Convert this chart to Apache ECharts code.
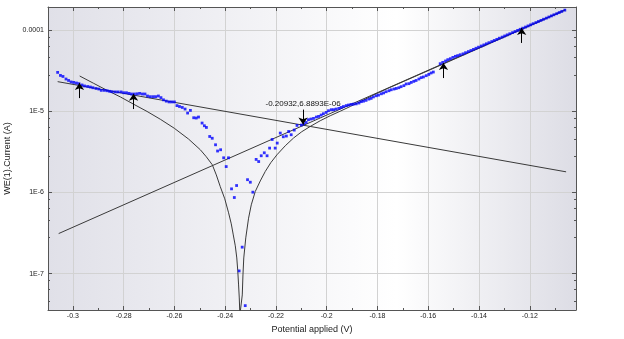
<!DOCTYPE html>
<html>
<head>
<meta charset="utf-8">
<script src="https://cdn.jsdelivr.net/npm/echarts@6.0.0/dist/echarts.min.js"></script>
<style>
html,body{margin:0;padding:0;background:#fff;}
#chart{width:624px;height:339px;}
</style>
</head>
<body>
<div id="chart"></div>
<script>
// Measured points (potential in V, current in A)
const potential = [
-0.3060,-0.3049,-0.3039,-0.3027,-0.3017,-0.3007,-0.2997,-0.2986,-0.2976,-0.2964,
-0.2954,-0.2942,-0.2931,-0.2921,-0.2909,-0.2898,-0.2888,-0.2876,-0.2865,-0.2855,
-0.2845,-0.2833,-0.2822,-0.2810,-0.2800,-0.2789,-0.2779,-0.2769,-0.2758,-0.2747,
-0.2737,-0.2726,-0.2716,-0.2706,-0.2695,-0.2684,-0.2674,-0.2663,-0.2653,-0.2643,
-0.2632,-0.2621,-0.2611,-0.2600,-0.2590,-0.2580,-0.2569,-0.2558,-0.2548,-0.2537,
-0.2524,-0.2514,-0.2505,-0.2491,-0.2482,-0.2474,-0.2461,-0.2451,-0.2438,-0.2430,
-0.2418,-0.2406,-0.2396,-0.2387,-0.2375,-0.2364,-0.2355,-0.2345,-0.2333,-0.2321,
-0.2312,-0.2301,-0.2291,-0.2278,-0.2268,-0.2258,-0.2246,-0.2235,-0.2225,-0.2215,
-0.2203,-0.2195,-0.2183,-0.2171,-0.2159,-0.2150,-0.2140,-0.2128,-0.2117,
-0.2100,-0.2091,-0.2081,-0.2072,-0.2062,-0.2052,-0.2041,-0.2032,-0.2022,-0.2013,
-0.2002,-0.1993,-0.1982,-0.1973,-0.1963,-0.1952,-0.1943,-0.1934,-0.1923,-0.1914,
-0.1904,-0.1895,-0.1884,-0.1873,-0.1864,-0.1855,-0.1845,-0.1834,-0.1825,-0.1816,
-0.1805,-0.1796,-0.1785,-0.1776,-0.1766,-0.1755,-0.1746,-0.1735,-0.1726,-0.1716,
-0.1707,-0.1696,-0.1687,-0.1676,-0.1667,-0.1657,-0.1648,-0.1637,-0.1628,-0.1619,
-0.1608,-0.1598,-0.1589,-0.1580,
-0.1553,-0.1543,-0.1532,-0.1523,-0.1513,-0.1503,-0.1493,-0.1484,
-0.1474,-0.1463,-0.1453,-0.1442,-0.1432,-0.1422,-0.1412,-0.1402,-0.1391,-0.1381,
-0.1371,-0.1361,-0.1350,-0.1340,-0.1330,-0.1320,-0.1309,-0.1299,-0.1289,-0.1279,
-0.1268,-0.1258,-0.1248,-0.1238,-0.1228,-0.1217,-0.1207,-0.1197,-0.1187,-0.1176,
-0.1166,-0.1156,-0.1146,-0.1135,-0.1125,-0.1115,-0.1105,-0.1094,-0.1084,-0.1074,
-0.1062
];
const current = [
3.03e-5,2.78e-5,2.70e-5,2.51e-5,2.41e-5,2.31e-5,2.28e-5,2.24e-5,2.20e-5,2.12e-5,
2.06e-5,2.03e-5,2.00e-5,1.96e-5,1.92e-5,1.89e-5,1.82e-5,1.82e-5,1.80e-5,1.77e-5,
1.75e-5,1.74e-5,1.74e-5,1.74e-5,1.70e-5,1.70e-5,1.67e-5,1.64e-5,1.64e-5,1.65e-5,
1.67e-5,1.64e-5,1.64e-5,1.55e-5,1.52e-5,1.52e-5,1.52e-5,1.55e-5,1.48e-5,1.39e-5,
1.34e-5,1.31e-5,1.31e-5,1.31e-5,1.18e-5,1.15e-5,1.12e-5,1.07e-5,9.55e-6,1.03e-5,
8.36e-6,8.29e-6,8.53e-6,7.19e-6,6.66e-6,6.35e-6,4.91e-6,4.67e-6,3.88e-6,3.25e-6,
3.37e-6,2.68e-6,2.09e-6,2.68e-6,1.11e-6,8.68e-7,1.22e-6,1.08e-7,2.12e-7,4.03e-8,
1.44e-6,1.34e-6,1.01e-6,2.56e-6,2.41e-6,2.84e-6,3.09e-6,2.84e-6,3.53e-6,4.51e-6,
3.53e-6,4.07e-6,5.41e-6,4.87e-6,4.97e-6,5.66e-6,5.16e-6,5.89e-6,6.72e-6,
6.79e-6,6.99e-6,7.31e-6,7.90e-6,8.06e-6,8.20e-6,8.53e-6,8.68e-6,9.03e-6,9.37e-6,
9.72e-6,1.02e-5,1.05e-5,1.05e-5,1.07e-5,1.09e-5,1.12e-5,1.15e-5,1.18e-5,1.20e-5,
1.22e-5,1.23e-5,1.24e-5,1.27e-5,1.32e-5,1.34e-5,1.37e-5,1.42e-5,1.45e-5,1.51e-5,
1.56e-5,1.59e-5,1.65e-5,1.69e-5,1.75e-5,1.80e-5,1.85e-5,1.89e-5,1.92e-5,1.96e-5,
2.02e-5,2.08e-5,2.18e-5,2.20e-5,2.28e-5,2.35e-5,2.41e-5,2.51e-5,2.61e-5,2.66e-5,
2.76e-5,2.86e-5,2.98e-5,3.06e-5,
3.88e-5,4.03e-5,4.19e-5,4.35e-5,4.47e-5,4.64e-5,4.78e-5,4.88e-5,
5.00e-5,5.13e-5,5.30e-5,5.47e-5,5.64e-5,5.82e-5,6.01e-5,6.20e-5,6.41e-5,6.61e-5,
6.82e-5,7.04e-5,7.27e-5,7.50e-5,7.74e-5,8.00e-5,8.25e-5,8.52e-5,8.79e-5,9.07e-5,
9.37e-5,9.67e-5,9.98e-5,1.030e-4,1.063e-4,1.097e-4,1.133e-4,1.169e-4,1.207e-4,1.246e-4,
1.286e-4,1.327e-4,1.370e-4,1.414e-4,1.460e-4,1.507e-4,1.555e-4,1.605e-4,1.657e-4,1.710e-4,
1.775e-4
];

// Fitted (Butler-Volmer) curve
const fitE = [
-0.29732,-0.29193,-0.28654,-0.2813,-0.27606,-0.27079,-0.26555,-0.26004,-0.25441,-0.2498,
-0.24744,-0.24508,-0.2435,-0.24193,-0.24016,-0.23866,-0.2376,-0.23681,-0.23602,-0.23543,
-0.23504,-0.23472,-0.23445,-0.23421,
-0.2335,-0.23327,-0.233,-0.23268,-0.23189,-0.23079,-0.22972,-0.22815,-0.22618,-0.22421,
-0.22205,-0.21961,-0.21634,-0.21307,-0.20984,-0.2065,-0.20256,-0.19862,-0.19469,-0.19075,
-0.18681,-0.18169,-0.17618,-0.16319,-0.1435,-0.12382,-0.10599
];
const fitI = [
2.735e-5,2.23e-5,1.82e-5,1.51e-5,1.227e-5,1.00e-5,8.01e-6,6.20e-6,4.56e-6,3.37e-6,
2.76e-6,2.20e-6,1.65e-6,1.18e-6,8.36e-7,5.62e-7,4.11e-7,3.00e-7,2.20e-7,1.56e-7,
1.08e-7,7.25e-8,5.01e-8,3.09e-8,
3.09e-8,5.46e-8,9.64e-8,1.56e-7,2.76e-7,4.83e-7,7.05e-7,1.03e-6,1.39e-6,1.82e-6,
2.33e-6,2.92e-6,3.77e-6,4.70e-6,5.62e-6,6.53e-6,7.68e-6,8.85e-6,1.006e-5,1.15e-5,
1.32e-5,1.585e-5,1.91e-5,2.88e-5,5.38e-5,1.006e-4,1.776e-4
];

// Tafel lines (end points)
const anodicE = [-0.3056, -0.1060];
const anodicI = [3.12e-7, 1.80e-4];
const cathodicE = [-0.3060, -0.1057];
const cathodicI = [2.33e-5, 1.80e-6];

// Fit-range arrows (pointing up)
const arrowE = [-0.2974, -0.2761, -0.1540, -0.1232];
const arrowTipI = [2.24e-5, 1.65e-5, 3.96e-5, 1.07e-4];
const arrowTailI = [1.46e-5, 1.07e-5, 2.58e-5, 6.99e-5];

// Corrosion point marker (pointing down)
const corrE = -0.20932;
const corrI = 6.8893e-6;
const corrTailI = 1.054e-5;
const corrLabel = '-0.20932,6.8893E-06';

// Axis ticks
const xMajor = [-0.3, -0.28, -0.26, -0.24, -0.22, -0.2, -0.18, -0.16, -0.14, -0.12];
const xMinor = [-0.31, -0.29, -0.27, -0.25, -0.23, -0.21, -0.19, -0.17, -0.15, -0.13, -0.11];
const xMin = -0.3098, xMax = -0.1018;
const yMin = 3.56e-8, yMax = 1.94e-4;

const FONT = '"Liberation Sans", Arial, sans-serif';
const AX = '#555';

function pairs(a, b) { const out = []; for (let i = 0; i < Math.min(a.length, b.length); i++) out.push([a[i], b[i]]); return out; }

function yFmt(v) {
  const e = Math.log10(v);
  const r = Math.round(e);
  if (Math.abs(e - r) > 1e-6) return '';
  if (r === -4) return '0.0001';
  return '1E' + r;
}

const chart = echarts.init(document.getElementById('chart'), null, {renderer: 'canvas'});

const arrowLines = [];
for (let i = 0; i < arrowE.length; i++) {
  arrowLines.push([{coord: [arrowE[i], arrowTailI[i]]}, {coord: [arrowE[i], arrowTipI[i]]}]);
}
arrowLines.push([
  {coord: [corrE, corrTailI], label: {show: true, position: 'start', formatter: corrLabel, fontSize: 8, color: '#111', fontFamily: FONT, distance: 2}},
  {coord: [corrE, corrI]}
]);

const option = {
  animation: false,
  backgroundColor: '#ffffff',
  textStyle: {fontFamily: FONT},
  grid: {
    left: 48, top: 7, right: 48, bottom: 29,
    containLabel: false, outerBoundsMode: 'none',
    show: true, borderWidth: 0,
    backgroundColor: new echarts.graphic.LinearGradient(0, 0, 1, 0, [
      {offset: 0, color: '#e0e0e8'},
      {offset: 0.66, color: '#ffffff'},
      {offset: 1, color: '#dddde5'}
    ])
  },
  xAxis: [
    {
      type: 'value', position: 'bottom', min: xMin, max: xMax,
      name: 'Potential applied (V)', nameLocation: 'middle', nameGap: 15,
      nameTextStyle: {fontSize: 9, color: '#222', fontFamily: FONT},
      axisLine: {show: true, onZero: false, lineStyle: {color: AX}},
      axisTick: {show: true, inside: true, length: 4, customValues: xMajor, lineStyle: {color: AX}},
      axisLabel: {show: true, customValues: xMajor, fontSize: 7, margin: 3, color: '#222', fontFamily: FONT,
        formatter: v => String(+(+v).toFixed(2))},
      splitLine: {show: true, lineStyle: {color: '#d2d2d2', width: 1}}
    },
    {
      type: 'value', position: 'bottom', min: xMin, max: xMax,
      axisLine: {show: false},
      axisTick: {show: true, inside: true, length: 2, customValues: xMinor, lineStyle: {color: AX}},
      axisLabel: {show: false}, splitLine: {show: false}
    },
    {
      type: 'value', position: 'top', min: xMin, max: xMax,
      axisLine: {show: true, onZero: false, lineStyle: {color: AX}},
      axisTick: {show: true, inside: true, length: 4, customValues: xMajor, lineStyle: {color: AX}},
      axisLabel: {show: false}, splitLine: {show: false}
    },
    {
      type: 'value', position: 'top', min: xMin, max: xMax,
      axisLine: {show: false},
      axisTick: {show: true, inside: true, length: 2, customValues: xMinor, lineStyle: {color: AX}},
      axisLabel: {show: false}, splitLine: {show: false}
    }
  ],
  yAxis: [
    {
      type: 'log', logBase: 10, min: yMin, max: yMax, position: 'left',
      name: 'WE(1).Current (A)', nameLocation: 'middle', nameGap: 29, nameRotate: 90,
      nameTextStyle: {fontSize: 9, color: '#222', fontFamily: FONT},
      axisLine: {show: true, onZero: false, lineStyle: {color: AX}},
      axisTick: {show: true, inside: true, length: 4, lineStyle: {color: AX}},
      minorTick: {show: true, splitNumber: 5, length: 2, lineStyle: {color: AX}},
      axisLabel: {show: true, fontSize: 7, margin: 4, color: '#222', fontFamily: FONT,
        showMinLabel: false, showMaxLabel: false, formatter: yFmt},
      splitLine: {show: true, lineStyle: {color: '#d2d2d2', width: 1}}
    },
    {
      type: 'log', logBase: 10, min: yMin, max: yMax, position: 'right',
      axisLine: {show: true, onZero: false, lineStyle: {color: AX}},
      axisTick: {show: true, inside: true, length: 4, lineStyle: {color: AX}},
      minorTick: {show: true, splitNumber: 5, length: 2, lineStyle: {color: AX}},
      axisLabel: {show: false}, splitLine: {show: false}
    }
  ],
  series: [
    {
      name: 'Fit', type: 'line', xAxisIndex: 0, yAxisIndex: 0,
      data: pairs(fitE, fitI), symbol: 'none', smooth: false,
      lineStyle: {color: '#3a3a3a', width: 1}, z: 3, silent: true
    },
    {
      name: 'Anodic', type: 'line', xAxisIndex: 0, yAxisIndex: 0,
      data: pairs(anodicE, anodicI), symbol: 'none',
      lineStyle: {color: '#3a3a3a', width: 1}, z: 3, silent: true
    },
    {
      name: 'Cathodic', type: 'line', xAxisIndex: 0, yAxisIndex: 0,
      data: pairs(cathodicE, cathodicI), symbol: 'none',
      lineStyle: {color: '#3a3a3a', width: 1}, z: 3, silent: true
    },
    {
      name: 'Measured', type: 'scatter', xAxisIndex: 0, yAxisIndex: 0,
      data: pairs(potential, current), symbol: 'rect', symbolSize: 2.8,
      itemStyle: {color: '#0000ff'}, z: 4, silent: true
    },
    {
      name: 'Markers', type: 'line', xAxisIndex: 0, yAxisIndex: 0, data: [],
      z: 5, silent: true,
      markLine: {
        silent: true, animation: false,
        symbol: ['none', 'arrow'], symbolSize: 7,
        lineStyle: {color: '#000', width: 1, type: 'solid'},
        label: {show: false},
        emphasis: {disabled: true},
        data: arrowLines
      }
    }
  ]
};
chart.setOption(option);
</script>
</body>
</html>
